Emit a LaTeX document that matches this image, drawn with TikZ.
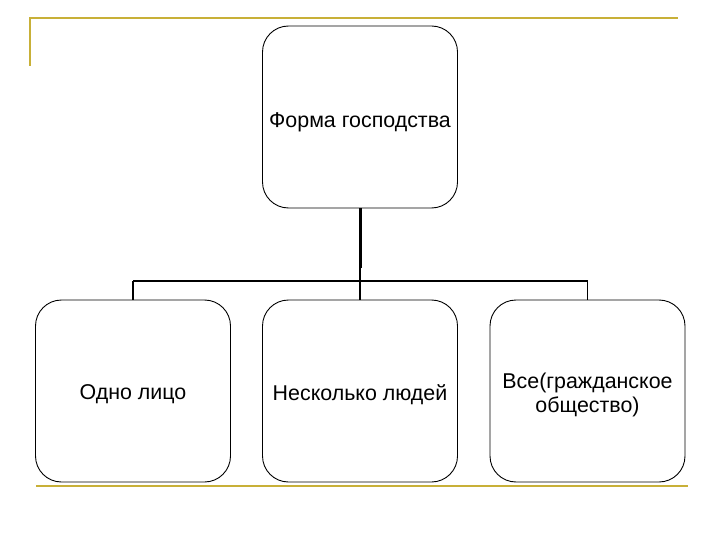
\documentclass[tikz,border=0pt]{standalone}
\usepackage{fontspec}
\setmainfont{Liberation Sans}
\definecolor{gold}{RGB}{200,176,56}
\begin{document}
\begin{tikzpicture}[x=1pt,y=-1pt,
  box/.style={draw=black,line width=0.9pt,rounded corners=26pt,minimum width=195pt,minimum height=182pt,inner sep=0pt},
  txt/.style={align=center,font=\fontsize{21.4}{23.5}\selectfont,inner sep=0pt},
  conn/.style={draw=black,line width=1.6pt}]
\useasboundingbox (0,0) rectangle (720,540);
\fill[white] (0,0) rectangle (720,540);
\draw[gold,line width=2pt] (30,66) -- (30,18) -- (678,18);
\draw[gold,line width=2.5pt] (36,486) -- (688,486);
\node[box] (top) at (360,117) {};
\node[box] (b1) at (133,391) {};
\node[box] (b2) at (360,391) {};
\node[box] (b3) at (587.5,391) {};
\node[txt] (t0) at ([yshift=-5pt]top.center) {Форма господства};
\node[txt] (t1) at ([yshift=-3.5pt]b1.center) {Одно лицо};
\node[txt] (t2) at ([yshift=-3.5pt]b2.center) {Несколько людей};
\node[txt] (t3) at ([yshift=-4pt]b3.center) {Все(гражданское\\общество)};
\coordinate (j) at (360,281);
\coordinate (jl) at (133,281);
\coordinate (jr) at (587.5,281);
\draw[black,line width=3pt] (top.south) -- (360,268);
\draw[conn] (360,268) -- (j);
\draw[conn] (jl) -- (jr);
\draw[conn] (jl) -- (b1.north);
\draw[conn] (j) -- (b2.north);
\draw[conn] (jr) -- (b3.north);
\end{tikzpicture}
\end{document}
